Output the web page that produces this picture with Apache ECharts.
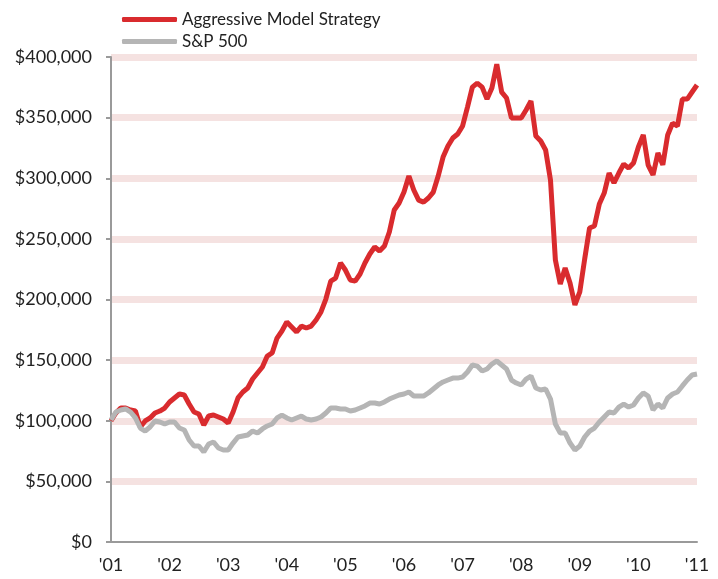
<!DOCTYPE html>
<html>
<head>
<meta charset="utf-8">
<script src="https://cdn.jsdelivr.net/npm/echarts@6/dist/echarts.min.js"></script>
<style>
  html, body { margin: 0; padding: 0; background: #fff; }
  #main { width: 718px; height: 579px; }
</style>
</head>
<body>
<div id="main"></div>
<script>
// years shown on the x axis
var years = ["'01", "'02", "'03", "'04", "'05", "'06", "'07", "'08", "'09", "'10", "'11"];

// monthly values in thousands of dollars, Jan 2001 .. Jan 2011
var strategy = [
  100, 106.4, 110.5, 110.5, 108.9, 108, 94.8, 99.8, 102.3, 106.4, 108, 110.5,
  115.5, 118.8, 122.1, 121.2, 113.8, 107.2, 105.6, 96.5, 103.9, 104.7, 103.1, 101.4,
  98.1, 107.2, 118.8, 123.7, 127, 134.4, 139.4, 144.3, 153.4, 155.9, 168.2, 174,
  181.4, 177.3, 173.2, 178.1, 176.5, 178.1, 183.1, 189.7, 200.4, 215.2, 217.7, 230.1,
  224.3, 216.1, 215.2, 221, 230.1, 237.5, 243.3, 240, 244.1, 255.7, 273.8, 279.6,
  288.6, 301.8, 290.3, 282, 280.3, 283.7, 288.6, 301.8, 317.5, 326.6, 333.2, 336.5,
  343.1, 358.7, 375.2, 378.5, 375.2, 365.3, 374.4, 394, 371.1, 366.2, 349.7, 349.7,
  349.7, 356.3, 363.7, 334.8, 330.7, 323.3, 298.5, 232.6, 212.8, 226, 213.6, 195.5,
  206.2, 233.4, 259, 260.6, 278.7, 287.8, 304.3, 296.1, 304.3, 311.7, 308.4, 312.6,
  325.8, 335.7, 310.9, 302.7, 320.8, 311, 335.7, 345.5, 343.1, 365.3, 365.3, 371.1,
  376.9
];
var sp500 = [
  100.6, 107.2, 108.9, 109.7, 107.2, 102.3, 94, 91.5, 94.8, 99.8, 99, 97.3,
  99, 99, 94, 92.4, 84.1, 79.2, 79.2, 74.2, 80.8, 82.5, 77.5, 75.9,
  75.9, 81.6, 86.6, 87.4, 88.2, 91.5, 89.9, 93.2, 95.7, 97.3, 102.3, 104.7,
  102.3, 100.6, 102.3, 103.9, 101.4, 100.6, 101.4, 103.1, 106.4, 110.5, 110.5, 109.7,
  109.7, 108, 108.9, 110.5, 112.2, 114.6, 114.6, 113.8, 115.5, 117.9, 119.6, 121.2,
  122.1, 123.7, 120.4, 120.4, 120.4, 122.9, 126.2, 129.5, 132, 133.6, 135.2, 135.2,
  136.1, 140.2, 146, 145.1, 141, 142.7, 146.8, 149.3, 146, 142.7, 133.6, 131.1,
  129.5, 134.4, 136.9, 127, 125.4, 126.2, 117.9, 97.3, 89.9, 89.9, 81.6, 75.9,
  79.2, 86.6, 91.5, 94, 99, 103.1, 107.2, 106.4, 111.3, 113.8, 111.3, 113,
  118.8, 122.9, 120.4, 108.9, 113.8, 110.5, 118.8, 122.1, 123.7, 128.7, 133.6, 137.7,
  138.5
];

// month categories, one per data point
var months = [];
for (var i = 0; i < strategy.length; i++) {
  months.push(years[Math.floor(i / 12)] + '-' + (i % 12 + 1));
}

var font = 'Lato, "DejaVu Sans", sans-serif';
var myChart = echarts.init(document.getElementById('main'));
var option = {
  animation: false,
  textStyle: { fontFamily: font },
  legend: {
    left: 117,
    top: 6,
    orient: 'vertical',
    itemWidth: 55,
    itemHeight: 5,
    itemGap: 5,
    icon: 'roundRect',
    textStyle: { fontFamily: font, fontSize: 17, color: '#222' },
    data: ['Aggressive Model Strategy', 'S&P 500']
  },
  grid: { left: 111, top: 57, width: 586, height: 485 },
  xAxis: {
    type: 'category',
    data: months,
    boundaryGap: false,
    axisLine: { lineStyle: { color: '#9a9a9a', width: 2 } },
    axisTick: { show: false },
    axisLabel: {
      interval: 11,
      margin: 14,
      fontFamily: font,
      fontSize: 18,
      color: '#222',
      formatter: function (v) { return v.split('-')[0]; }
    },
    splitLine: { show: false }
  },
  yAxis: {
    type: 'value',
    min: 0,
    max: 400,
    interval: 50,
    axisLine: { show: true, lineStyle: { color: '#9a9a9a', width: 2 } },
    axisTick: { show: true, length: 5, lineStyle: { color: '#9a9a9a', width: 2 } },
    axisLabel: {
      margin: 19,
      fontFamily: font,
      fontSize: 18,
      color: '#222',
      formatter: function (v) {
        return '$' + (v * 1000).toLocaleString('en-US');
      }
    },
    splitLine: {
      show: true,
      lineStyle: {
        width: 7,
        color: ['rgba(0,0,0,0)', '#f5e2e1', '#f5e2e1', '#f5e2e1', '#f5e2e1',
                '#f5e2e1', '#f5e2e1', '#f5e2e1', '#f5e2e1']
      }
    }
  },
  series: [
    {
      name: 'Aggressive Model Strategy',
      type: 'line',
      data: strategy,
      showSymbol: false,
      color: '#d92b2e',
      lineStyle: { width: 5, color: '#d92b2e' }
    },
    {
      name: 'S&P 500',
      type: 'line',
      data: sp500,
      showSymbol: false,
      color: '#b5b5b5',
      lineStyle: { width: 5, color: '#b5b5b5' }
    }
  ]
};
myChart.setOption(option);
</script>
</body>
</html>
